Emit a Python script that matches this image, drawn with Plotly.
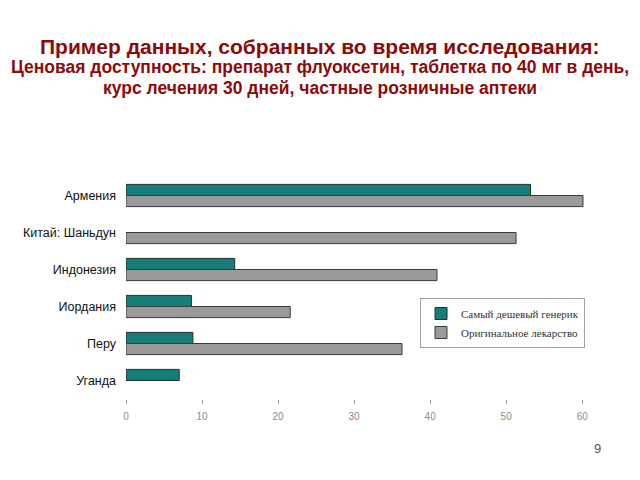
import plotly.graph_objects as go

categories = ["Армения", "Китай: Шаньдун", "Индонезия", "Иордания", "Перу", "Уганда"]
generic = [53.2, None, 14.3, 8.6, 8.8, 7.0]
original = [60.1, 51.3, 40.9, 21.6, 36.3, None]
tick_vals = [0, 10, 20, 30, 40, 50, 60]
series_names = ["Самый дешевый генерик", "Оригинальное лекарство"]

title_color = "#8b0a0a"

fig = go.Figure()
fig.add_trace(go.Bar(y=categories, x=generic, orientation="h", name=series_names[0],
                     marker=dict(color="#177d79", line=dict(color="#1f2f2f", width=1))))
fig.add_trace(go.Bar(y=categories, x=original, orientation="h", name=series_names[1],
                     marker=dict(color="#9a9a9a", line=dict(color="#3a3a3a", width=1))))

fig.update_layout(
    width=640, height=480,
    margin=dict(l=126, r=54, t=177, b=81),
    paper_bgcolor="white", plot_bgcolor="white",
    barmode="group", bargap=0.4, bargroupgap=0,
    showlegend=True,
    legend=dict(x=(420 - 126) / 460, y=(399 - 298) / 222, xanchor="left", yanchor="top",
                bgcolor="white", bordercolor="#a0a0a0", borderwidth=1,
                font=dict(family="Liberation Serif", size=11, color="#333333"),
                traceorder="normal", itemwidth=30, tracegroupgap=0),
    font=dict(family="Liberation Sans"),
)
fig.update_xaxes(range=[0, 60.5], tickvals=tick_vals, showgrid=False, zeroline=False,
                 showline=False, ticks="outside", ticklen=4, tickcolor="#999999",
                 ticklabelstandoff=4,
                 tickfont=dict(family="Liberation Sans", size=10, color="#8a8a8a"))
fig.update_yaxes(autorange="reversed", showgrid=False, showline=False, ticks="",
                 ticklabelstandoff=9,
                 tickfont=dict(family="Liberation Sans", size=12.5, color="#111111"))

def pap(py):
    return (399 - py) / 222

xc = (320 - 126) / 460
fig.add_annotation(text="<b>Пример данных, собранных во время исследования:</b>",
                   xref="paper", yref="paper", x=xc, y=pap(46), yanchor="middle", xanchor="center",
                   showarrow=False,
                   font=dict(family="Liberation Sans", size=21, color=title_color))
fig.add_annotation(text="<b>Ценовая доступность: препарат флуоксетин, таблетка по 40 мг в день,</b>",
                   xref="paper", yref="paper", x=xc, y=pap(67), yanchor="middle", xanchor="center",
                   showarrow=False,
                   font=dict(family="Liberation Sans", size=17.5, color=title_color))
fig.add_annotation(text="<b>курс лечения 30 дней, частные розничные аптеки</b>",
                   xref="paper", yref="paper", x=xc, y=pap(88), yanchor="middle", xanchor="center",
                   showarrow=False,
                   font=dict(family="Liberation Sans", size=17.5, color=title_color))
fig.add_annotation(text="9", xref="paper", yref="paper", x=(597 - 126) / 460, y=pap(448),
                   yanchor="middle", xanchor="center",
                   showarrow=False, font=dict(family="Liberation Sans", size=13, color="#555555"))

fig.write_html("out.html")
